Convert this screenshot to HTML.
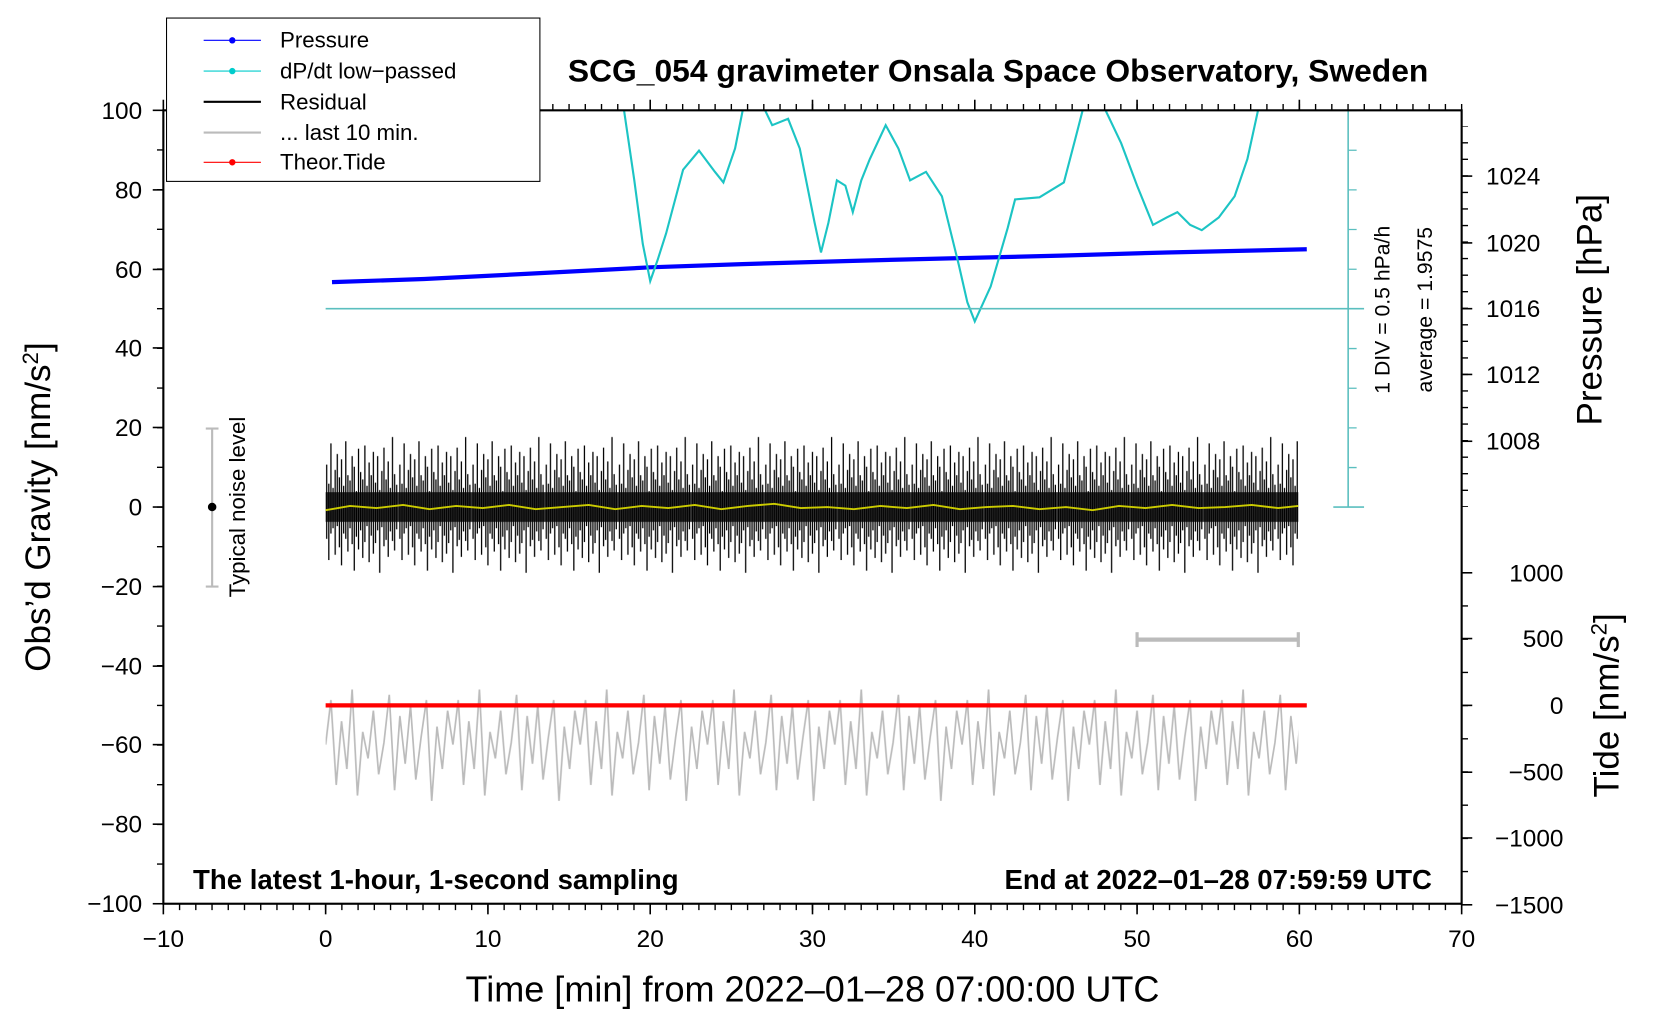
<!DOCTYPE html>
<html><head><meta charset="utf-8"><style>
html,body{margin:0;padding:0;background:#fff;}
svg{display:block;font-family:"Liberation Sans",sans-serif;}
</style></head><body>
<svg width="1660" height="1020" viewBox="0 0 1565 961.6" xmlns="http://www.w3.org/2000/svg">
<defs>
<pattern id="blk" patternUnits="userSpaceOnUse" x="307" y="400" width="69" height="160">
<g stroke="#000" stroke-width="1.2">
<line x1="1" y1="38" x2="1" y2="108"/><line x1="3" y1="56" x2="3" y2="128"/><line x1="5" y1="18" x2="5" y2="103"/><line x1="7" y1="60" x2="7" y2="98"/>
<line x1="9" y1="43" x2="9" y2="123"/><line x1="11" y1="28" x2="11" y2="96"/><line x1="13" y1="50" x2="13" y2="116"/><line x1="15" y1="33" x2="15" y2="133"/>
<line x1="17" y1="58" x2="17" y2="103"/><line x1="19" y1="16" x2="19" y2="108"/><line x1="21" y1="48" x2="21" y2="120"/><line x1="23" y1="53" x2="23" y2="98"/>
<line x1="25" y1="30" x2="25" y2="113"/><line x1="27" y1="40" x2="27" y2="138"/><line x1="29" y1="63" x2="29" y2="106"/><line x1="31" y1="23" x2="31" y2="118"/>
<line x1="33" y1="45" x2="33" y2="100"/><line x1="35" y1="52" x2="35" y2="126"/><line x1="37" y1="20" x2="37" y2="111"/><line x1="39" y1="58" x2="39" y2="96"/>
<line x1="41" y1="36" x2="41" y2="130"/><line x1="43" y1="48" x2="43" y2="105"/><line x1="45" y1="26" x2="45" y2="122"/>
<line x1="47" y1="55" x2="47" y2="112"/><line x1="49" y1="30" x2="49" y2="100"/><line x1="51" y1="62" x2="51" y2="140"/><line x1="53" y1="44" x2="53" y2="97"/>
<line x1="55" y1="22" x2="55" y2="115"/><line x1="57" y1="52" x2="57" y2="109"/><line x1="59" y1="35" x2="59" y2="125"/><line x1="61" y1="60" x2="61" y2="101"/>
<line x1="63" y1="12" x2="63" y2="110"/><line x1="65" y1="47" x2="65" y2="119"/><line x1="67" y1="57" x2="67" y2="99"/>
</g>
<rect x="0" y="64" width="69" height="28" fill="#000" opacity="0.8"/>
</pattern>
<pattern id="gry" patternUnits="userSpaceOnUse" x="307" y="630" width="120" height="160">
<path d="M0 72 L5 30 L10 110 L15 50 L20 95 L25 20 L30 120 L35 60 L40 85 L45 40 L50 100 L55 70 L60 25 L65 115 L70 45 L75 90 L80 35 L85 105 L90 65 L95 30 L100 125 L105 55 L110 95 L115 40 L120 72" fill="none" stroke="#bbb" stroke-width="1.6"/>
</pattern>
<clipPath id="cl"><rect x="154" y="104" width="1224" height="748"/></clipPath>
</defs>
<rect width="1565" height="962" fill="#fff"/>
<rect x="307" y="400" width="917" height="160" fill="url(#blk)"/>
<polyline points="307,481 330,477 355,479 380,476 405,480 430,477 455,479 480,476 505,480 530,478 555,476 580,480 605,477 630,479 655,476 680,480 705,477 730,475 755,479 780,478 805,480 830,477 855,479 880,476 905,480 930,478 955,477 980,480 1005,478 1030,481 1055,477 1080,479 1105,476 1130,479 1155,478 1180,476 1205,479 1224,477" fill="none" stroke="#cc0" stroke-width="1.8"/>
<rect x="307" y="630" width="917" height="160" fill="url(#gry)"/>
<line x1="307" y1="665" x2="1232" y2="665" stroke="#f00" stroke-width="4"/>
<polyline points="313,266 400,263 500,258 613,252 700,249 800,246 919,243 1000,241 1100,238 1232,235" fill="none" stroke="#00f" stroke-width="4"/>
<polyline clip-path="url(#cl)" fill="none" stroke="#1cc4c4" stroke-width="2" points="587,95 598,170 606,230 613,265 620,245 628,220 644,160 659,142 674,162 682,172 693,140 702,95 717,95 728,118 743,112 754,140 768,210 774,238 781,210 789,170 797,175 804,200 812,170 820,150 835,118 847,140 858,170 873,162 888,185 904,250 912,285 919,303 934,270 950,215 957,188 980,186 1003,172 1014,130 1023,95 1038,95 1057,135 1072,175 1087,212 1100,205 1110,200 1122,212 1133,217 1149,205 1164,185 1176,150 1188,95"/>
<line x1="1271" y1="104" x2="1271" y2="478" stroke="#5bbfbf" stroke-width="1.5"/>
<line x1="1257" y1="478" x2="1286" y2="478" stroke="#5bbfbf" stroke-width="1.5"/>
<line x1="307" y1="291" x2="1286" y2="291" stroke="#5bbfbf" stroke-width="1.5"/>
<line x1="1275" y1="104" x2="1275" y2="478" stroke="#5bbfbf" stroke-width="8" stroke-dasharray="1.2 36.2" stroke-dashoffset="-37"/>
<text transform="translate(1310,292) rotate(-90)" font-size="20" text-anchor="middle">1 DIV = 0.5 hPa/h</text>
<text transform="translate(1350,292) rotate(-90)" font-size="20" text-anchor="middle">average = 1.9575</text>
<rect x="154" y="104" width="1224" height="748" fill="none" stroke="#000" stroke-width="2"/>
<g stroke="#000">
<line x1="154" y1="855" x2="1379" y2="855" stroke-width="6" stroke-dasharray="1.3 14" stroke-dashoffset="0.65"/>
<line x1="154" y1="101" x2="1379" y2="101" stroke-width="6" stroke-dasharray="1.3 14" stroke-dashoffset="0.65"/>
<line x1="151" y1="104" x2="151" y2="853" stroke-width="6" stroke-dasharray="1.3 36.1" stroke-dashoffset="0.65"/>
<line x1="1381" y1="119" x2="1381" y2="478" stroke-width="6" stroke-dasharray="1.3 14.3" stroke-dashoffset="0.65"/>
<line x1="1381" y1="540" x2="1381" y2="853" stroke-width="6" stroke-dasharray="1.3 30" stroke-dashoffset="0.65"/>
</g>
<g stroke="#000" stroke-width="1.5">
<line x1="154" y1="852" x2="154" y2="862"/><line x1="307" y1="852" x2="307" y2="862"/><line x1="460" y1="852" x2="460" y2="862"/><line x1="613" y1="852" x2="613" y2="862"/><line x1="766" y1="852" x2="766" y2="862"/><line x1="919" y1="852" x2="919" y2="862"/><line x1="1072" y1="852" x2="1072" y2="862"/><line x1="1225" y1="852" x2="1225" y2="862"/><line x1="1378" y1="852" x2="1378" y2="862"/>
<line x1="154" y1="104" x2="154" y2="94"/><line x1="307" y1="104" x2="307" y2="94"/><line x1="460" y1="104" x2="460" y2="94"/><line x1="613" y1="104" x2="613" y2="94"/><line x1="766" y1="104" x2="766" y2="94"/><line x1="919" y1="104" x2="919" y2="94"/><line x1="1072" y1="104" x2="1072" y2="94"/><line x1="1225" y1="104" x2="1225" y2="94"/>
<line x1="144" y1="104" x2="154" y2="104"/><line x1="144" y1="179" x2="154" y2="179"/><line x1="144" y1="254" x2="154" y2="254"/><line x1="144" y1="328" x2="154" y2="328"/><line x1="144" y1="403" x2="154" y2="403"/><line x1="144" y1="478" x2="154" y2="478"/><line x1="144" y1="553" x2="154" y2="553"/><line x1="144" y1="628" x2="154" y2="628"/><line x1="144" y1="702" x2="154" y2="702"/><line x1="144" y1="777" x2="154" y2="777"/><line x1="144" y1="852" x2="154" y2="852"/>
<line x1="1378" y1="166" x2="1388" y2="166"/><line x1="1378" y1="229" x2="1388" y2="229"/><line x1="1378" y1="291" x2="1388" y2="291"/><line x1="1378" y1="353" x2="1388" y2="353"/><line x1="1378" y1="416" x2="1388" y2="416"/>
<line x1="1378" y1="540" x2="1388" y2="540"/><line x1="1378" y1="602" x2="1388" y2="602"/><line x1="1378" y1="665" x2="1388" y2="665"/><line x1="1378" y1="728" x2="1388" y2="728"/><line x1="1378" y1="790" x2="1388" y2="790"/><line x1="1378" y1="853" x2="1388" y2="853"/>
</g>
<g font-size="23" text-anchor="middle">
<text x="154" y="893">−10</text><text x="307" y="893">0</text><text x="460" y="893">10</text><text x="613" y="893">20</text><text x="766" y="893">30</text><text x="919" y="893">40</text><text x="1072" y="893">50</text><text x="1225" y="893">60</text><text x="1378" y="893">70</text>
</g>
<g font-size="23" text-anchor="end">
<text x="134" y="112">100</text><text x="134" y="187">80</text><text x="134" y="262">60</text><text x="134" y="336">40</text><text x="134" y="411">20</text><text x="134" y="486">0</text><text x="134" y="561">−20</text><text x="134" y="636">−40</text><text x="134" y="710">−60</text><text x="134" y="785">−80</text><text x="134" y="860">−100</text>
<text x="1474" y="548">1000</text><text x="1474" y="610">500</text><text x="1474" y="673">0</text><text x="1474" y="736">−500</text><text x="1474" y="798">−1000</text><text x="1474" y="861">−1500</text>
</g>
<g font-size="23">
<text x="1401" y="174">1024</text><text x="1401" y="237">1020</text><text x="1401" y="299">1016</text><text x="1401" y="361">1012</text><text x="1401" y="424">1008</text>
</g>
<text x="941" y="77" font-size="30" font-weight="bold" text-anchor="middle">SCG_054 gravimeter Onsala Space Observatory, Sweden</text>
<text x="182" y="838" font-size="26" font-weight="bold">The latest 1-hour, 1-second sampling</text>
<text x="1350" y="838" font-size="26" font-weight="bold" text-anchor="end">End at 2022–01–28 07:59:59 UTC</text>
<text x="766" y="944" font-size="34" text-anchor="middle">Time [min] from 2022–01–28 07:00:00 UTC</text>
<text transform="translate(47,478) rotate(-90)" font-size="33" text-anchor="middle">Obs’d Gravity [nm/s<tspan baseline-shift="super" font-size="21">2</tspan>]</text>
<text transform="translate(1510,292) rotate(-90)" font-size="33" text-anchor="middle">Pressure [hPa]</text>
<text transform="translate(1526,665) rotate(-90)" font-size="33" text-anchor="middle">Tide [nm/s<tspan baseline-shift="super" font-size="21">2</tspan>]</text>
<line x1="200" y1="404" x2="200" y2="553" stroke="#bbb" stroke-width="2"/>
<line x1="194" y1="404" x2="206" y2="404" stroke="#bbb" stroke-width="2"/>
<line x1="194" y1="553" x2="206" y2="553" stroke="#bbb" stroke-width="2"/>
<circle cx="200" cy="478" r="4" fill="#000"/>
<text transform="translate(231,478) rotate(-90)" font-size="21" text-anchor="middle">Typical noise level</text>
<line x1="1072" y1="603" x2="1224" y2="603" stroke="#bbb" stroke-width="4"/>
<line x1="1072" y1="596" x2="1072" y2="610" stroke="#bbb" stroke-width="3"/>
<line x1="1224" y1="596" x2="1224" y2="610" stroke="#bbb" stroke-width="3"/>
<rect x="157" y="17" width="352" height="154" fill="#fff" stroke="#000" stroke-width="1"/>
<g font-size="21">
<line x1="192" y1="38" x2="246" y2="38" stroke="#00f" stroke-width="1"/><circle cx="219" cy="38" r="3" fill="#00f"/><text x="264" y="45">Pressure</text>
<line x1="192" y1="67" x2="246" y2="67" stroke="#0cc" stroke-width="1"/><circle cx="219" cy="67" r="3" fill="#0cc"/><text x="264" y="74">dP/dt low−passed</text>
<line x1="192" y1="96" x2="246" y2="96" stroke="#000" stroke-width="2"/><text x="264" y="103">Residual</text>
<line x1="192" y1="125" x2="246" y2="125" stroke="#bbb" stroke-width="2"/><text x="264" y="132">... last 10 min.</text>
<line x1="192" y1="153" x2="246" y2="153" stroke="#f00" stroke-width="1"/><circle cx="219" cy="153" r="3" fill="#f00"/><text x="264" y="160">Theor.Tide</text>
</g>
</svg>
</body></html>
